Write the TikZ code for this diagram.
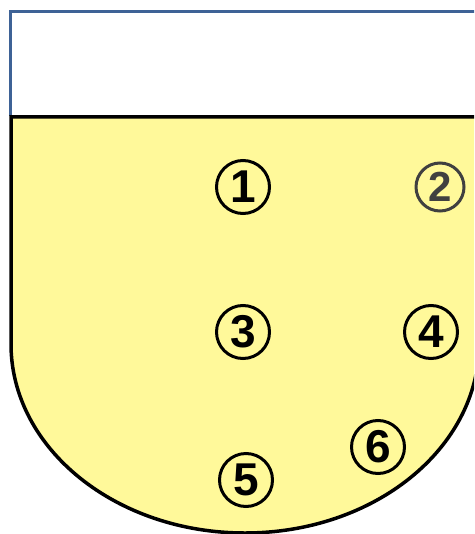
\documentclass[tikz,border=0pt]{standalone}
\usepackage{fontspec}
\setsansfont{Liberation Sans}
\definecolor{wallblue}{RGB}{62,98,150}
\definecolor{liquid}{RGB}{255,249,154}
\tikzset{
  num/.style={circle,draw,line width=3pt,minimum size=53pt,inner sep=0pt,
    font=\sffamily\bfseries\fontsize{46}{46}\selectfont},
}
\begin{document}
\begin{tikzpicture}[x=1pt,y=-1pt]
\useasboundingbox (0,0) rectangle (474,534);
\clip (0,0) rectangle (474,534);

% 容器上部
\draw[wallblue,line width=3pt] (10,116) -- (10,12) -- (480,12);

% 液体
\fill[liquid] (11,117) -- (11,344) arc[start angle=180,end angle=360,x radius=234,y radius=-189] -- (480,117) -- cycle;
\draw[line width=3.5pt] (480,117) -- (11,117) -- (11,344) arc[start angle=180,end angle=360,x radius=234,y radius=-189];

% 编号
\node[num] (n1) at (243,187) {1};
\node[num,draw=black!75,text=black!75,minimum size=48pt,font=\sffamily\bfseries\fontsize{42}{42}\selectfont] (n2) at (440,187) {2};
\node[num] (n3) at (243,332) {3};
\node[num] (n4) at (431,332) {4};
\node[num] (n5) at (246,480) {5};
\node[num] (n6) at (378,447) {6};
\end{tikzpicture}
\end{document}
